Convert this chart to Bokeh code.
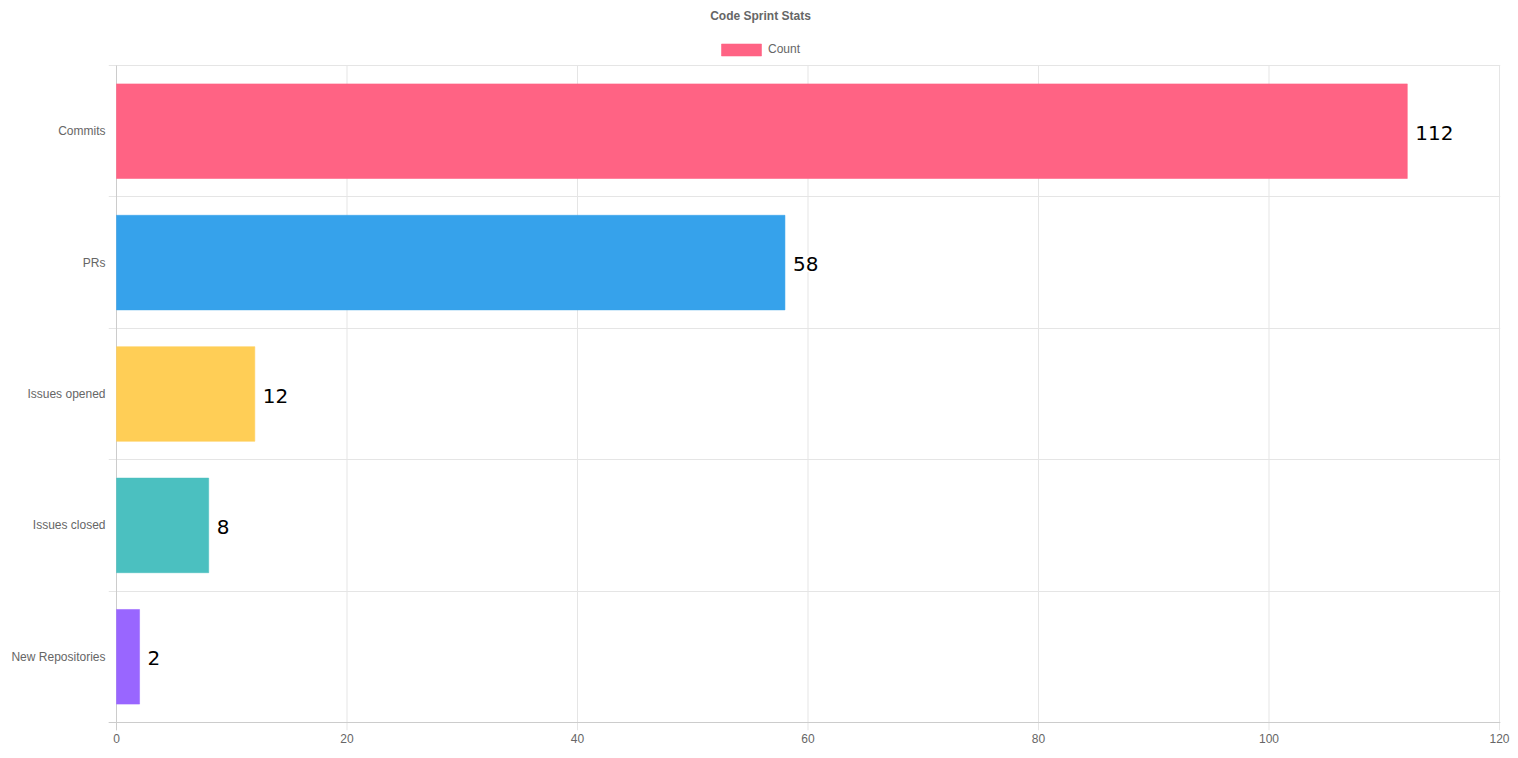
from bokeh.plotting import figure
from bokeh.models import (ColumnDataSource, Range1d, FixedTicker, Span, Legend,
                          LegendItem, Label)
from bokeh.core.properties import value
from bokeh.embed import file_html
from bokeh.resources import INLINE

categories = ["Commits", "PRs", "Issues opened", "Issues closed", "New Repositories"]
counts = [112, 58, 12, 8, 2]
colors = ["#FF6384", "#36A2EB", "#FFCE56", "#4BC0C0", "#9966FF"]
x_ticks = [0, 20, 40, 60, 80, 100, 120]
title_text = "Code Sprint Stats"
series_name = "Count"

# layout (pixels)
W, H = 1518, 758
fl, fr, ft, fb = 108, 1500, 0, 730           # frame edges
cat_top, cat_bottom, zero_x, max_x = 65, 722, 116, 1499
frame_w, frame_h = fr - fl, fb - ft

x_max = x_ticks[-1]
n = len(categories)
xs = x_max / (max_x - zero_x)                # data per px
ys = n / (cat_bottom - cat_top)
x_start, x_end = -(zero_x - fl) * xs, x_max + (fr - max_x) * xs
y_top, y_bottom = -(cat_top - ft) * ys, n + (fb - cat_bottom) * ys

centers = [i + 0.5 for i in range(n)]
src = ColumnDataSource(dict(y=centers, right=counts, color=colors,
                            label=[str(c) for c in counts], cat=categories))

p = figure(width=W, height=H, output_backend="svg", toolbar_location=None,
           x_range=Range1d(x_start, x_end), y_range=Range1d(y_bottom, y_top),
           min_border_left=fl, min_border_right=W - fr,
           min_border_top=ft, min_border_bottom=H - fb, title=None)
p.outline_line_color = None
p.background_fill_color = "white"
p.border_fill_color = "white"

# grid lines (Chart.js style: at category boundaries, ticks extend 8px out)
p.xgrid.visible = False
p.ygrid.ticker = FixedTicker(ticks=list(range(n + 1)))
p.ygrid.grid_line_color = "#e5e5e5"
p.segment(x0=x_ticks, x1=x_ticks, y0=[0] * len(x_ticks), y1=[y_bottom] * len(x_ticks),
          line_color="#e5e5e5", line_width=1)
p.segment(x0=[0], x1=[0], y0=[0], y1=[y_bottom], line_color="#cccccc", line_width=1)
p.add_layout(Span(location=n, dimension="width", line_color="#cccccc", line_width=1))

bars = p.hbar(y="y", left=0, right="right", height=0.72, source=src,
              fill_color="color", line_color="color", line_alpha=0.55, line_width=1)

p.text(x="right", y="y", text="label", source=src, x_offset=7, y_offset=1.5,
       text_baseline="middle", text_align="left", text_color="black",
       text_font=value("DejaVu Sans"), text_font_size="20px",
       background_fill_color="white", padding=1)

# axes
for ax in (p.xaxis, p.yaxis):
    ax.axis_line_color = None
    ax.major_tick_line_color = None
    ax.minor_tick_line_color = None
    ax.major_tick_out = 0
    ax.major_tick_in = 0
    ax.minor_tick_out = 0
    ax.major_label_text_color = "#666666"
    ax.major_label_text_font = "Liberation Sans"
    ax.major_label_text_font_size = "12px"
p.xaxis.ticker = FixedTicker(ticks=x_ticks)
p.xaxis.major_label_standoff = 3
p.yaxis.ticker = FixedTicker(ticks=centers)
p.yaxis.major_label_overrides = {c: cat for c, cat in zip(centers, categories)}
p.yaxis.major_label_standoff = 3

# title, centred on the canvas (screen units measured from the frame's bottom-left)
p.add_layout(Label(x=W / 2 + 1 - fl, y=fb - 15.5, x_units="screen", y_units="screen",
                   text=title_text, text_align="center", text_baseline="middle",
                   text_font="Liberation Sans", text_font_size="12px",
                   text_font_style="bold", text_color="#666666"))

# legend (Bokeh insets box legend glyphs by 10% per side: 50x15 -> 40x12 drawn)
leg_x, leg_y = 716 - fl, fb - 56.5
legend = Legend(items=[LegendItem(label=series_name, renderers=[bars], index=0)],
                orientation="horizontal", location=(leg_x, leg_y),
                glyph_width=50, glyph_height=15, label_standoff=2,
                label_text_font="Liberation Sans", label_text_font_size="12px",
                label_text_color="#666666", label_height=15,
                background_fill_alpha=0, border_line_color=None,
                margin=0, padding=0)
p.add_layout(legend)

open("out.html", "w").write(file_html(p, INLINE))
